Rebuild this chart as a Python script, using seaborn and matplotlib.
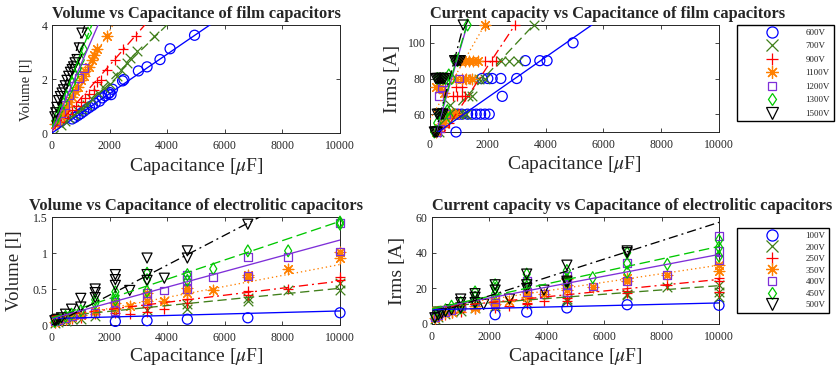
import numpy as np
import pandas as pd
import matplotlib
matplotlib.use("Agg")
import matplotlib.pyplot as plt
from matplotlib.lines import Line2D
import seaborn as sns

# ---------------------------------------------------------------- data
film_voltages = ["600V", "700V", "900V", "1100V", "1200V", "1300V", "1500V"]
elec_voltages = ["100V", "200V", "250V", "350V", "400V", "450V", "500V"]

# Film capacitors: volume [l] against capacitance [uF]
film_vol_cap = {
    "600V": [700, 800, 900, 1000, 1100, 1200, 1300, 1400, 1500, 1650, 1750, 1850,
             1950, 2000, 2050, 2100, 2450, 2500, 3000, 3300, 3750, 4100, 4950],
    "700V": [300, 450, 600, 750, 900, 1050, 1200, 1400, 1600, 1800, 2000, 2250,
             2400, 2600, 2700, 2950, 3550],
    "900V": [250, 400, 550, 700, 850, 1000, 1150, 1300, 1450, 1550, 1700, 1900,
             2200, 2450, 2900],
    "1100V": [100, 200, 300, 400, 500, 600, 700, 800, 900, 1000, 1100, 1150, 1300,
              1400, 1450, 1550, 1900],
    "1200V": [150, 300, 450, 600, 750, 950, 1100],
    "1300V": [120, 200, 300, 400, 500, 600, 700, 800, 900, 1000, 1100, 1250],
    "1500V": [100, 130, 170, 230, 290, 350, 400, 460, 520, 580, 640, 700, 750, 800,
              870, 950, 1040],
}
film_vol_val = {
    "600V": [0.52, 0.58, 0.65, 0.72, 0.80, 0.88, 0.95, 1.02, 1.10, 1.18, 1.30, 1.38,
             1.45, 1.50, 1.42, 1.62, 1.93, 1.98, 2.30, 2.45, 2.72, 3.12, 3.62],
    "700V": [0.30, 0.45, 0.55, 0.65, 0.80, 0.90, 1.05, 1.25, 1.50, 1.65, 1.80, 2.10,
             2.33, 2.58, 2.77, 3.02, 3.58],
    "900V": [0.40, 0.55, 0.70, 0.85, 1.00, 1.15, 1.30, 1.45, 1.60, 1.90, 1.95, 2.35,
             2.70, 3.10, 3.60],
    "1100V": [0.35, 0.45, 0.62, 0.80, 0.98, 1.15, 1.35, 1.55, 1.72, 1.95, 2.10, 2.28,
              2.45, 2.70, 2.90, 3.10, 3.60],
    "1200V": [0.45, 0.75, 1.05, 1.40, 1.75, 2.05, 2.40],
    "1300V": [0.45, 0.65, 0.90, 1.10, 1.35, 1.60, 1.85, 2.10, 2.40, 2.70, 3.10, 3.70],
    "1500V": [0.60, 0.75, 0.95, 1.20, 1.35, 1.48, 1.60, 1.75, 1.95, 2.10, 2.25, 2.35,
              2.45, 2.60, 2.72, 3.15, 3.70],
}
film_vol_fit_icpt = [0.00, -0.15, 0.07, 0.15, 0.08, 0.20, 0.35]
film_vol_fit_slope = [7.3e-4, 1.04e-3, 1.22e-3, 1.82e-3, 2.45e-3, 2.75e-3, 3.2e-3]

# Film capacitors: rms current [A] against capacitance [uF]
film_irms_cap = {
    "600V": [900, 950, 1100, 1300, 1450, 1600, 1750, 1900, 2050, 1800, 2000, 2150,
             2450, 3000, 2500, 3300, 3800, 4050, 4950],
    "700V": [300, 500, 650, 800, 1000, 1150, 1250, 700, 1300, 1450, 1500, 1700,
             1900, 2450, 2750, 3050, 3600],
    "900V": [350, 500, 650, 700, 850, 1000, 800, 950, 1100, 1200, 900, 1100, 1200,
             1400, 1900, 2150, 2300, 2950],
    "1100V": [200, 300, 450, 550, 650, 750, 850, 200, 350, 500, 900, 1100, 1250,
              1450, 1050, 1200, 1350, 1500, 1650, 1900],
    "1200V": [250, 350, 300, 400, 450, 550, 1000],
    "1300V": [150, 250, 300, 400, 500, 600, 700, 250, 350, 450, 550, 650, 750, 850,
              950, 1300],
    "1500V": [150, 200, 250, 250, 300, 350, 400, 450, 200, 250, 300, 350, 400, 450,
              500, 850, 900, 950, 1000, 1050, 1150],
}
film_irms_val = {
    "600V": [50, 60, 60, 60, 60, 60, 60, 60, 60, 80, 80, 80, 80, 80, 70, 90, 90, 90, 100],
    "700V": [50, 55, 60, 60, 60, 60, 60, 65, 70, 70, 80, 80, 80, 90, 90, 90, 110],
    "900V": [50, 53, 55, 60, 60, 60, 70, 70, 70, 70, 75, 75, 80, 80, 90, 90, 90, 110],
    "1100V": [50, 52, 55, 58, 60, 60, 60, 75, 75, 72, 80, 80, 80, 80, 90, 90, 90, 90,
              90, 110],
    "1200V": [50, 52, 70, 75, 78, 60, 80],
    "1300V": [50, 55, 60, 60, 60, 62, 58, 80, 80, 80, 80, 82, 80, 90, 90, 110],
    "1500V": [50, 50, 50, 60, 60, 60, 60, 60, 80, 80, 80, 80, 80, 80, 80, 90, 90, 90,
              90, 90, 110],
}
film_irms_fit_icpt = [46.8, 48.0, 38.0, 57.0, 38.0, 40.0, 38.0]
film_irms_fit_slope = [0.01129, 0.0173, 0.0245, 0.028, 0.056, 0.055, 0.062]

# Electrolytic capacitors: volume [l] against capacitance [uF]
elec_vol_cap = {
    "100V": [2200, 3300, 4700, 6800, 10000],
    "200V": [100, 220, 470, 680, 1000, 1500, 2200, 3300, 4700, 4700, 6800, 6800, 8200,
             10000, 10000],
    "250V": [100, 220, 470, 680, 1000, 1500, 2200, 2200, 2700, 3300, 3300, 3900, 4700,
             4700, 6800, 6800, 8200, 10000, 10000],
    "350V": [100, 220, 470, 680, 1000, 1500, 2200, 2200, 2700, 3300, 3300, 3900, 4700,
             4700, 5600, 6800, 6800, 8200, 10000, 10000],
    "400V": [100, 220, 470, 680, 1000, 1500, 2200, 2200, 3300, 3300, 3900, 4700, 4700,
             4700, 5600, 6800, 6800, 8200, 10000, 10000],
    "450V": [100, 220, 470, 680, 1000, 1500, 1500, 2200, 2200, 2200, 3300, 3300, 3300,
             4700, 4700, 5600, 6800, 8200, 10000, 10000],
    "500V": [100, 150, 220, 330, 470, 680, 1000, 1000, 1500, 1500, 1500, 2200, 2200,
             2200, 2700, 3300, 3300, 3300, 3900, 4700, 4700, 6800],
}
elec_vol_val = {
    "100V": [0.05, 0.06, 0.08, 0.10, 0.17],
    "200V": [0.03, 0.04, 0.06, 0.08, 0.09, 0.12, 0.17, 0.21, 0.22, 0.29, 0.33, 0.38,
             0.48, 0.49, 0.58],
    "250V": [0.03, 0.05, 0.07, 0.09, 0.10, 0.15, 0.16, 0.22, 0.15, 0.18, 0.25, 0.22,
             0.30, 0.36, 0.42, 0.47, 0.50, 0.62, 0.67],
    "350V": [0.04, 0.06, 0.09, 0.11, 0.14, 0.20, 0.23, 0.30, 0.26, 0.33, 0.45, 0.34,
             0.45, 0.52, 0.49, 0.66, 0.69, 0.78, 0.93, 1.02],
    "400V": [0.05, 0.07, 0.10, 0.12, 0.15, 0.17, 0.20, 0.32, 0.33, 0.45, 0.48, 0.50,
             0.62, 0.70, 0.67, 0.68, 0.95, 0.95, 1.02, 1.42],
    "450V": [0.05, 0.08, 0.12, 0.15, 0.20, 0.30, 0.35, 0.35, 0.40, 0.46, 0.47, 0.63,
             0.72, 0.62, 0.70, 0.78, 1.03, 1.03, 1.40, 1.43],
    "500V": [0.06, 0.07, 0.08, 0.10, 0.15, 0.22, 0.25, 0.37, 0.38, 0.45, 0.50, 0.55,
             0.63, 0.70, 0.48, 0.62, 0.70, 0.93, 0.65, 0.93, 1.03, 1.40],
}
elec_vol_fit_icpt = [0.09, 0.11, 0.12, 0.08, 0.09, 0.10, 0.00]
elec_vol_fit_slope = [1.05e-5, 4.0e-5, 4.9e-5, 7.6e-5, 1.09e-4, 1.34e-4, 2.08e-4]

# Electrolytic capacitors: rms current [A] against capacitance [uF]
elec_irms_cap = {
    "100V": [2200, 3300, 4700, 6800, 10000],
    "200V": [100, 220, 470, 680, 1000, 1500, 2200, 3300, 4700, 4700, 6800, 6800, 8200,
             10000, 10000, 10000],
    "250V": [100, 220, 470, 680, 1000, 1500, 2200, 2200, 2700, 3300, 3300, 3900, 4700,
             4700, 6800, 6800, 8200, 10000, 10000, 10000],
    "350V": [100, 220, 470, 680, 1000, 1500, 1500, 2200, 2200, 2700, 3300, 3300, 3900,
             4700, 4700, 4700, 5600, 6800, 6800, 8200, 10000, 10000],
    "400V": [100, 220, 470, 680, 1000, 1500, 2200, 2200, 3300, 3300, 3900, 4700, 4700,
             4700, 5600, 6800, 6800, 8200, 10000, 10000, 10000],
    "450V": [100, 220, 470, 680, 1000, 1000, 1500, 1500, 1500, 2200, 2200, 2200, 3300,
             3300, 3300, 4700, 4700, 4700, 5600, 6800, 6800, 6800, 8200, 10000, 10000,
             10000],
    "500V": [100, 220, 330, 470, 680, 1000, 1000, 1000, 1500, 1500, 1500, 1800, 2200,
             2200, 2700, 3300, 3300, 3300, 3900, 4700, 4700, 4700, 6800, 6800],
}
elec_irms_val = {
    "100V": [5.2, 6.7, 9.0, 10.8, 10.5],
    "200V": [3, 4, 5.5, 6.5, 7.5, 9, 10, 11.5, 13, 14, 16, 17, 20.5, 15, 18, 22],
    "250V": [3, 4, 5, 6, 7, 8.5, 9, 10.5, 10, 11, 12, 13, 13, 14.5, 17.5, 18.5, 22, 18,
             24, 26],
    "350V": [3.5, 4.5, 6, 7, 9, 9, 10, 11, 13, 13, 15, 18, 17, 19, 22, 25, 20.5, 24,
             26, 27.5, 30, 33],
    "400V": [4, 5, 6.5, 8, 10, 13, 12, 14, 18, 24, 17, 18, 22, 27, 21, 24, 34, 27.5,
             36, 41, 49.5],
    "450V": [4, 6, 8, 10, 9, 12, 12, 15, 18, 17, 20, 22, 21, 24, 28, 23, 25, 30, 26,
             29, 34, 40, 33.5, 38, 43, 47],
    "500V": [3.5, 5, 6, 7, 8, 9, 12, 14, 12, 15, 17, 11, 19, 22, 14, 20, 22, 28, 19,
             23, 24, 33, 40, 41],
}
elec_irms_fit_icpt = [8.0, 9.5, 8.8, 9.0, 8.5, 8.5, 5.5]
elec_irms_fit_slope = [3.8e-4, 1.2e-3, 1.62e-3, 2.4e-3, 3.05e-3, 3.5e-3, 5.15e-3]

cap_ticks = [0, 2000, 4000, 6000, 8000, 10000]

# ---------------------------------------------------------------- styling
COLORS = ["#0000ff", "#407f1a", "#ff0000", "#ff8000", "#7e2fd8", "#00c800", "#000000"]
MARKERS = ["o", "x", "+", (8, 2, 0), "s", "d", "v"]
HOLLOW = [True, False, False, False, True, True, True]
SIZES = [52, 48, 62, 58, 32, 36, 52]
LEG_MS = [8, 8, 9, 9, 6, 6.5, 8.5]
DASHES = ["", (7, 3.5), (7, 3, 1.5, 3), (1, 2.2), "", (8, 3.5), (7, 3, 1.5, 3)]

sns.set_style("ticks")
plt.rcParams["font.family"] = ["Liberation Serif", "DejaVu Serif"]
plt.rcParams["mathtext.fontset"] = "stix"
plt.rcParams["axes.edgecolor"] = "#262626"
plt.rcParams["axes.linewidth"] = 0.7

W, H = 837, 372
fig = plt.figure(figsize=(W / 100, H / 100), dpi=100)


def px_rect(left, top, right, bottom):
    return [left / W, 1 - bottom / H, (right - left) / W, (bottom - top) / H]


def draw_panel(ax, labels, caps, vals, icpt, slope):
    for i, lab in enumerate(labels):
        kw = dict(marker=MARKERS[i], s=SIZES[i], linewidth=0.9, clip_on=False,
                  zorder=3, legend=False, ax=ax)
        if HOLLOW[i]:
            kw.update(facecolor="none", edgecolor=COLORS[i])
        else:
            kw.update(color=COLORS[i])
        sns.scatterplot(x=caps[lab], y=vals[lab], **kw)

    # linear fit of each voltage class across the full capacitance range
    rows = []
    for i, lab in enumerate(labels):
        for c in (0, 10000):
            rows.append({"C": c, "Y": icpt[i] + slope[i] * c, "V": lab})
    fits = pd.DataFrame(rows)
    sns.lineplot(data=fits, x="C", y="Y", hue="V", style="V",
                 palette=dict(zip(labels, COLORS)),
                 dashes=dict(zip(labels, DASHES)),
                 linewidth=0.95, errorbar=None, legend=False, ax=ax, zorder=4)


def style_axes(ax, title, title_loc, ylabel, ylab_size, ylab_xy, xlab_y,
               ylim, yticks, yticklabels):
    ax.set_xlim(0, 10000)
    ax.set_ylim(*ylim)
    ax.set_xticks(cap_ticks)
    ax.set_xticklabels([str(t) for t in cap_ticks])
    ax.set_yticks(yticks)
    ax.set_yticklabels(yticklabels)
    ax.tick_params(direction="in", top=True, right=True, length=3, width=0.6,
                   labelsize=8.5, colors="#262626", labelcolor="#262626")
    ax.tick_params(axis="x", pad=5)
    ax.tick_params(axis="y", pad=3)
    ax.set_xlabel(r"Capacitance [$\mu$F]", fontsize=14, color="#262626")
    ax.xaxis.set_label_coords(0.5, xlab_y)
    ax.set_ylabel(ylabel, fontsize=ylab_size, color="#262626")
    ax.yaxis.set_label_coords(*ylab_xy)
    ax.set_title(title, fontsize=11.8, fontweight="bold", loc=title_loc, pad=5)
    for sp in ax.spines.values():
        sp.set_visible(True)


def add_legend(ax, labels, top_px, spacing):
    handles = []
    for i in range(len(labels)):
        handles.append(Line2D([], [], linestyle="none", marker=MARKERS[i],
                              markersize=LEG_MS[i], color=COLORS[i],
                              markerfacecolor="none" if HOLLOW[i] else COLORS[i],
                              markeredgecolor=COLORS[i], markeredgewidth=0.9))
    leg = ax.legend(handles, labels, loc="upper left",
                    bbox_to_anchor=(737 / W, 1 - top_px / H),
                    bbox_transform=fig.transFigure, frameon=True, fancybox=False,
                    edgecolor="black", framealpha=1, fontsize=6.5,
                    handlelength=7.0, handletextpad=0.2, labelspacing=spacing,
                    borderpad=0.4, borderaxespad=0, numpoints=1)
    leg.get_frame().set_linewidth(1.0)


# top left: film volume
ax1 = fig.add_axes(px_rect(52, 25, 340, 133))
draw_panel(ax1, film_voltages, film_vol_cap, film_vol_val,
           film_vol_fit_icpt, film_vol_fit_slope)
style_axes(ax1, "Volume vs Capacitance of film capacitors", "center",
           "Volume [l]", 10.5, (-0.066, 0.40), -0.21,
           (0, 4), [0, 2, 4], ["0", "2", "4"])

# top right: film rms current
ax2 = fig.add_axes(px_rect(430, 25, 719, 132))
draw_panel(ax2, film_voltages, film_irms_cap, film_irms_val,
           film_irms_fit_icpt, film_irms_fit_slope)
style_axes(ax2, "Current capacity vs Capacitance of film capacitors", "left",
           "Irms [A]", 14, (-0.10, 0.5), -0.21,
           (50, 110), [60, 80, 100], ["60", "80", "100"])
add_legend(ax2, film_voltages, 25, 0.57)

# bottom left: electrolytic volume
ax3 = fig.add_axes(px_rect(52, 217, 340, 325))
draw_panel(ax3, elec_voltages, elec_vol_cap, elec_vol_val,
           elec_vol_fit_icpt, elec_vol_fit_slope)
style_axes(ax3, "Volume vs Capacitance of electrolitic capacitors", "center",
           "Volume [l]", 13.5, (-0.10, 0.5), -0.19,
           (0, 1.5), [0, 0.5, 1, 1.5], ["0", "0.5", "1", "1.5"])

# bottom right: electrolytic rms current
ax4 = fig.add_axes(px_rect(432, 217, 719, 324))
draw_panel(ax4, elec_voltages, elec_irms_cap, elec_irms_val,
           elec_irms_fit_icpt, elec_irms_fit_slope)
style_axes(ax4, "Current capacity vs Capacitance of electrolitic capacitors", "left",
           "Irms [A]", 14, (-0.09, 0.5), -0.21,
           (0, 60), [0, 20, 40, 60], ["0", "20", "40", "60"])
add_legend(ax4, elec_voltages, 228, 0.36)

fig.savefig("out.png", dpi=100)
